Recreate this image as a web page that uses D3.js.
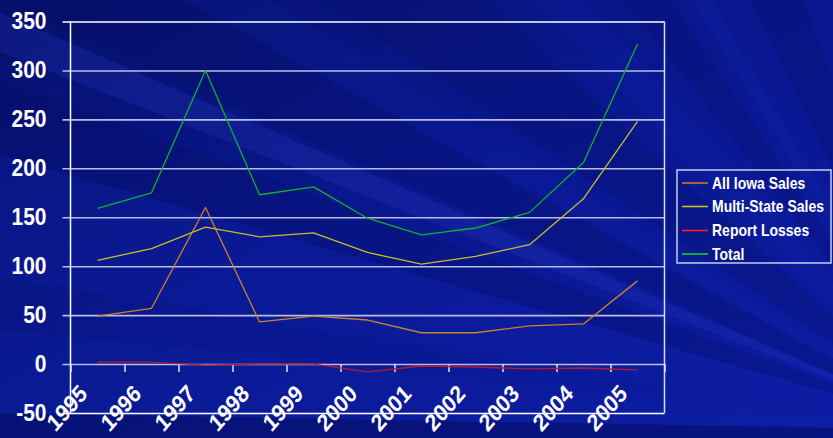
<!DOCTYPE html>
<html>
<head>
<meta charset="utf-8">
<script src="https://cdn.jsdelivr.net/npm/d3@7"></script>
<style>
  html, body { margin: 0; padding: 0; background: #0a1890; }
  svg { display: block; }
  text { font-family: "Liberation Sans", Arial, sans-serif; font-weight: bold; fill: #ffffff; }
</style>
</head>
<body>
<svg id="chart" width="833" height="438"></svg>
<script>
// Sales by year, 1995-2005
const years = ["1995", "1996", "1997", "1998", "1999", "2000", "2001", "2002", "2003", "2004", "2005"];
const allIowaSales = [49, 57, 160, 43, 49, 45, 32, 32, 39, 41, 85];
const multiStateSales = [106, 118, 140, 130, 134, 114, 102, 110, 122, 169, 248];
const reportLosses = [2, 2, -1, 0, 0, -8, -2, -3, -5, -4, -6];
const total = [159, 175, 300, 173, 181, 149, 132, 139, 155, 206, 327];
const yTicks = [-50, 0, 50, 100, 150, 200, 250, 300, 350];

const seriesNames = ["All Iowa Sales", "Multi-State Sales", "Report Losses", "Total"];
const seriesColors = ["#c9832a", "#c9bb2c", "#b8182e", "#12b02e"];
const legendColors = ["#c87a1a", "#c8c020", "#ff2020", "#10d020"];
const seriesValues = [allIowaSales, multiStateSales, reportLosses, total];

const W = 833, H = 438;
const svg = d3.select("#chart");
const stretch = 1.14; // text is a little taller than wide

// ---- background: deep blue with soft light rays from lower right ----
const defs = svg.append("defs");
const bg = defs.append("linearGradient").attr("id", "bg")
  .attr("x1", "0").attr("y1", "0").attr("x2", "1").attr("y2", "1");
bg.append("stop").attr("offset", "0").attr("stop-color", "#06106c");
bg.append("stop").attr("offset", "0.45").attr("stop-color", "#09178e");
bg.append("stop").attr("offset", "1").attr("stop-color", "#0b1ca2");
svg.append("rect").attr("width", W).attr("height", H).attr("fill", "url(#bg)");

const rayOrigin = [960, 430];
const rays = [
  // [from angle, to angle, colour, opacity]
  [176, 181, "#030a50", 0.4],
  [181, 186, "#1a30c0", 0.12],
  [189, 196, "#1228b8", 0.18],
  [196, 200, "#030a60", 0.25],
  [201.5, 203.5, "#3040d0", 0.2],
  [204, 209, "#040c60", 0.25],
  [209, 212, "#1830c8", 0.1],
  [214, 222, "#040c5c", 0.22],
  [225, 229, "#1428c0", 0.14],
  [232, 236, "#040c60", 0.2],
  [238, 240, "#1a30c8", 0.14],
  [244, 250, "#040c60", 0.2]
];
const R = 2000, rad = Math.PI / 180;
svg.append("g").selectAll("path").data(rays).join("path")
  .attr("d", d => {
    const [ox, oy] = rayOrigin;
    return `M${ox},${oy}L${ox + R * Math.cos(d[0] * rad)},${oy + R * Math.sin(d[0] * rad)}` +
           `L${ox + R * Math.cos(d[1] * rad)},${oy + R * Math.sin(d[1] * rad)}Z`;
  })
  .attr("fill", d => d[2]).attr("opacity", d => d[3]);

// ---- scales ----
const plot = { left: 70.5, right: 664.5, top: 21.5, bottom: 413 };
const x = d3.scaleLinear().domain([0, years.length]).range([plot.left, plot.right]);
const y = d3.scaleLinear().domain([-50, 350]).range([plot.bottom, plot.top]);

// ---- gridlines and y axis ----
const yAxis = d3.axisLeft(y).tickValues(yTicks).tickFormat("")
  .tickSizeInner(-(plot.right - plot.left) - 8).tickSizeOuter(0);
const gy = svg.append("g").attr("transform", `translate(${plot.right},0)`).call(yAxis);
gy.select(".domain").remove();
gy.selectAll(".tick line")
  .attr("x1", 0).attr("x2", -(plot.right - plot.left) - 8)
  .attr("stroke", d => (d === 350 || d === -50) ? "#ffffff" : "#b8bce4")
  .attr("stroke-width", d => (d === 350 || d === -50) ? 1.5 : 1.6);

// y tick labels
svg.append("g").selectAll("text").data(yTicks).join("text")
  .attr("text-anchor", "end")
  .attr("dominant-baseline", "central")
  .attr("font-size", 21)
  .attr("transform", d => `translate(46.5,${y(d)}) scale(1,${stretch})`)
  .text(d => d);

// plot frame: left axis line and right edge
svg.append("line").attr("x1", plot.left).attr("x2", plot.left)
  .attr("y1", plot.top).attr("y2", plot.bottom).attr("stroke", "#ffffff").attr("stroke-width", 1.5);
svg.append("line").attr("x1", plot.right).attr("x2", plot.right)
  .attr("y1", plot.top).attr("y2", plot.bottom).attr("stroke", "#d8dcf0").attr("stroke-width", 1.5);

// ---- category axis along zero, ticks between categories ----
const xAxis = d3.axisBottom(x).tickValues(d3.range(0, years.length + 1))
  .tickFormat("").tickSizeInner(8).tickSizeOuter(0);
const gx = svg.append("g").attr("transform", `translate(0,${y(0)})`).call(xAxis);
gx.select(".domain").remove();
gx.selectAll(".tick line").attr("stroke", "#e0e4f4").attr("stroke-width", 1.5);

// rotated year labels
svg.append("g").selectAll("text").data(years).join("text")
  .attr("text-anchor", "end")
  .attr("font-size", 21)
  .attr("transform", (d, i) => `translate(${x(i + 0.5) - 9},${y(0) + 31}) scale(1,${stretch}) rotate(-45)`)
  .text(d => d);

// ---- series lines ----
const line = d3.line().x((d, i) => x(i + 0.5)).y(d => y(d));
svg.append("g").selectAll("path").data(seriesValues).join("path")
  .attr("d", d => line(d))
  .attr("fill", "none")
  .attr("stroke", (d, i) => seriesColors[i])
  .attr("stroke-width", 1.3)
  .attr("stroke-linejoin", "round");

// ---- legend ----
const lg = svg.append("g").attr("transform", "translate(677,170)");
lg.append("rect").attr("width", 154).attr("height", 93)
  .attr("fill", "none").attr("stroke", "#c8cce8").attr("stroke-width", 1.5);
const rowY = [13, 36.5, 60.5, 84];
const rows = lg.selectAll("g.row").data(seriesNames).join("g").attr("class", "row")
  .attr("transform", (d, i) => `translate(0,${rowY[i]})`);
rows.append("line").attr("x1", 5).attr("x2", 31).attr("y1", 0).attr("y2", 0)
  .attr("stroke", (d, i) => legendColors[i]).attr("stroke-width", 1.6);
rows.append("text")
  .attr("font-size", 14)
  .attr("dominant-baseline", "central")
  .attr("transform", `translate(35,0) scale(1,${stretch})`)
  .text(d => d);
</script>
</body>
</html>
